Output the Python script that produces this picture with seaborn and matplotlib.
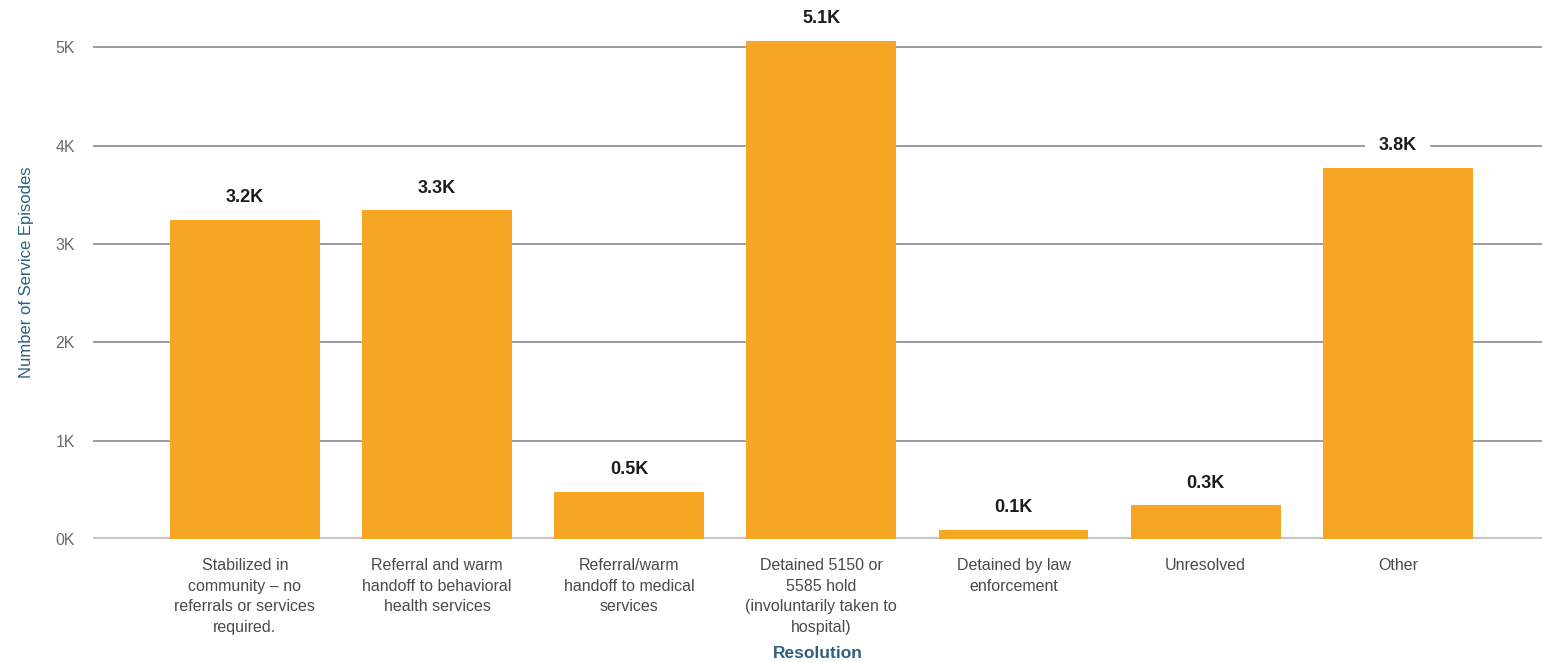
import matplotlib
matplotlib.use("Agg")
import matplotlib.pyplot as plt
from matplotlib.ticker import FuncFormatter
import seaborn as sns

# Service episode counts by resolution type
categories = [
    "Stabilized in community – no referrals or services required.",
    "Referral and warm handoff to behavioral health services",
    "Referral/warm handoff to medical services",
    "Detained 5150 or 5585 hold (involuntarily taken to hospital)",
    "Detained by law enforcement",
    "Unresolved",
    "Other",
]
tick_labels = [
    "Stabilized in\ncommunity – no\nreferrals or services\nrequired.",
    "Referral and warm\nhandoff to behavioral\nhealth services",
    "Referral/warm\nhandoff to medical\nservices",
    "Detained 5150 or\n5585 hold\n(involuntarily taken to\nhospital)",
    "Detained by law\nenforcement",
    "Unresolved",
    "Other",
]
episodes = [3240, 3340, 480, 5060, 90, 340, 3770]
y_ticks = [0, 1000, 2000, 3000, 4000, 5000]

sns.set_theme(style="white")
plt.rcParams["font.family"] = ["Liberation Sans", "DejaVu Sans"]

fig = plt.figure(figsize=(15.42, 6.62), dpi=100)
ax = fig.add_axes([0.0603, 0.186, 0.9397, 0.802])

sns.barplot(x=categories, y=episodes, color="#F6A623", saturation=1,
            width=0.78, linewidth=0, ax=ax, zorder=1)

ax.set_xlim(-0.79, 6.75)
ax.set_ylim(0, 5400)
ax.set_yticks(y_ticks)
ax.yaxis.set_major_formatter(FuncFormatter(lambda v, _: f"{v / 1000:.0f}K"))
ax.set_xticks(range(len(categories)))
ax.set_xticklabels(tick_labels, fontsize=11.5, color="#4a4a4a", linespacing=1.45)
ax.tick_params(axis="x", length=0, pad=14)
ax.tick_params(axis="y", length=0, pad=13, labelsize=11.5, labelcolor="#6a6a6a")

for s in ax.spines.values():
    s.set_visible(False)
ax.set_axisbelow(True)
ax.yaxis.grid(True, color="#9c9c9c", linewidth=1.4)
ax.xaxis.grid(False)
ax.axhline(0, color="#c6c6c6", linewidth=3, zorder=0.6)

labels = [f"{v / 1000:.1f}K" for v in episodes]
texts = ax.bar_label(ax.containers[0], labels=labels, padding=10,
                     fontsize=13, fontweight="bold", color="#1c1c1c")
for t in texts:
    t.set_zorder(0.8)
    t.set_bbox(dict(boxstyle="square,pad=0.75", fc="white", ec="none"))

ax.set_ylabel("Number of Service Episodes", fontsize=12, color="#2f5f80")
ax.yaxis.set_label_coords(-0.046, 0.503)
ax.yaxis.label.set_va("center")
ax.set_xlabel("Resolution", fontsize=12.5, fontweight="bold", color="#2f5f80")
ax.xaxis.set_label_coords(0.5, -0.215)
ax.xaxis.label.set_va("center")

fig.savefig("out.png", dpi=100)
